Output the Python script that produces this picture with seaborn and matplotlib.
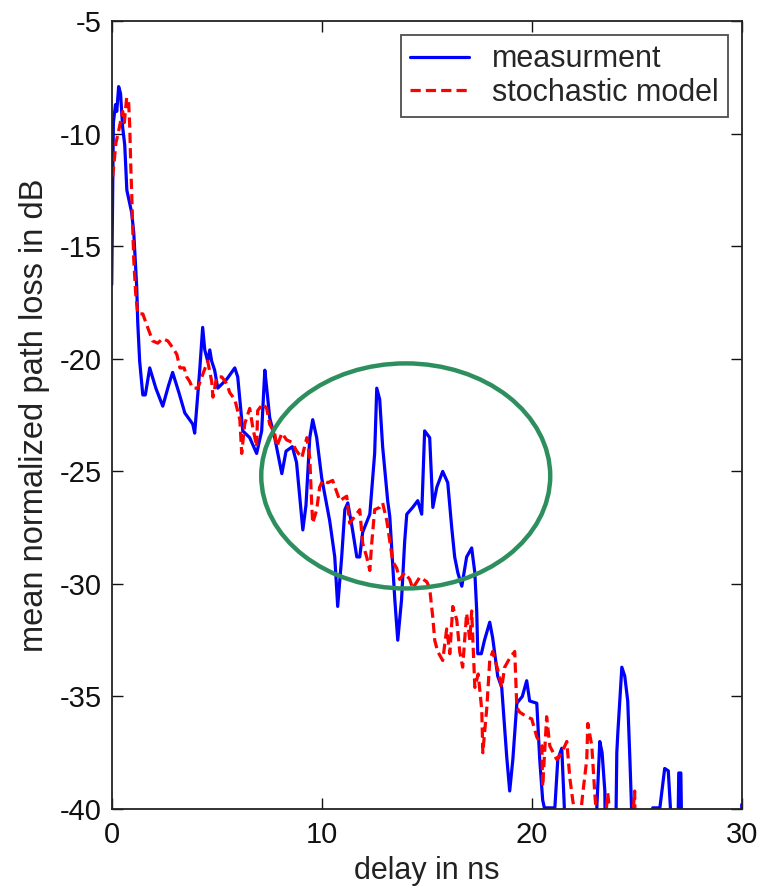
import numpy as np
import pandas as pd
import matplotlib
matplotlib.use("Agg")
import matplotlib.pyplot as plt
from matplotlib.patches import Ellipse
import seaborn as sns

# ---------------- data ----------------
meas_t = [0.0, 0.08, 0.18, 0.24, 0.33, 0.42, 0.52, 0.62, 0.67, 0.72, 0.86, 0.95, 1.05, 1.19, 1.24, 1.33,
          1.48, 1.6, 1.81, 2.1, 2.43, 2.7, 2.9, 3.2, 3.48, 3.86, 3.95, 4.19, 4.33, 4.43, 4.57, 4.67,
          4.76, 4.9, 5.05, 5.48, 5.86, 6.0, 6.24, 6.57, 6.9, 7.14, 7.29, 7.38, 7.52, 7.76, 8.1, 8.3,
          8.6, 8.8, 9.1, 9.25, 9.43, 9.57, 9.76, 10.0, 10.38, 10.62, 10.76, 10.95, 11.1, 11.24, 11.45,
          11.67, 11.81, 11.95, 12.29, 12.52, 12.62, 12.76, 12.9, 13.14, 13.24, 13.48, 13.62, 13.8,
          13.95, 14.05, 14.33, 14.57, 14.76, 14.9, 15.14, 15.29, 15.48, 15.76, 16.0, 16.19, 16.33,
          16.48, 16.67, 16.9, 17.14, 17.29, 17.38, 17.43, 17.6, 17.75, 18.0, 18.14, 18.38, 18.57,
          18.81, 18.95, 19.1, 19.29, 19.55, 19.76, 19.9, 20.24, 20.38, 20.52, 20.6, 21.1, 21.24,
          21.43, 21.55, 21.6, 23.05, 23.1, 23.24, 23.35, 23.48, 23.55, 23.95, 24.05, 24.1, 24.29,
          24.43, 24.57, 24.67, 24.75, 24.8, 25.7, 25.76, 26.1, 26.2, 26.33, 26.5, 26.6, 26.65, 26.9,
          27.0, 27.1, 27.2, 29.95, 30.0]
meas_db = [-16.7, -9.5, -8.7, -9.0, -7.9, -8.2, -9.7, -10.5, -11.5, -12.5, -13.1, -13.5, -14.4, -16.8, -18.4, -20.1,
           -21.6, -21.6, -20.4, -21.3, -22.1, -21.2, -20.6, -21.5, -22.4, -22.9, -23.3, -20.5, -18.6, -19.6, -20.1, -19.6,
           -20.1, -20.5, -21.3, -20.9, -20.4, -20.8, -23.2, -23.5, -24.2, -23.2, -20.5, -21.3, -22.6, -23.5, -25.1, -24.1,
           -23.9, -24.6, -27.6, -26.5, -23.5, -22.7, -23.5, -25.3, -27.2, -28.8, -31.0, -28.8, -26.7, -26.4, -27.5,
           -28.8, -28.8, -27.7, -26.9, -24.2, -21.3, -21.8, -23.9, -26.3, -27.0, -30.7, -32.5, -30.7,
           -28.1, -26.9, -26.6, -26.3, -26.9, -23.2, -23.5, -26.6, -25.7, -25.0, -25.5, -27.5, -28.8,
           -29.5, -30.1, -28.8, -28.4, -29.5, -31.2, -33.1, -33.1, -32.5, -31.7, -32.4, -34.1, -34.6,
           -37.7, -39.2, -37.8, -35.3, -35.0, -34.3, -35.2, -35.3, -37.8, -39.6, -39.95, -39.95, -37.8,
           -37.3, -39.9, -45.0, -45.0, -39.9, -37.0, -37.5, -39.2, -45.0, -45.0, -37.5, -36.6, -33.7,
           -34.1, -35.2, -37.7, -39.9, -45.0, -45.0, -39.95, -39.95, -39.2, -38.2, -38.3, -39.9, -45.0, -45.0,
           -38.4, -38.4, -45.0, -45.0, -39.8]

model_t = [0.05, 0.12, 0.2, 0.3, 0.52, 0.6, 0.71, 0.8, 0.86, 0.9, 0.95, 1.0, 1.05, 1.14, 1.24, 1.48, 1.71,
           1.95, 2.19, 2.43, 2.67, 2.9, 3.1, 3.25, 3.45, 3.57, 3.71, 3.85, 4.1, 4.33, 4.57, 4.76, 4.82,
           5.0, 5.24, 5.48, 5.62, 5.86, 6.1, 6.19, 6.33, 6.57, 6.71, 6.9, 6.95, 7.19, 7.38, 7.52, 7.76,
           7.86, 8.1, 8.33, 8.57, 8.81, 9.05, 9.29, 9.43, 9.52, 9.57, 9.76, 9.9, 10.05, 10.29, 10.52,
           10.86, 11.19, 11.33, 11.57, 11.81, 11.95, 12.14, 12.29, 12.38, 12.52, 12.76, 12.9, 13.1,
           13.24, 13.38, 13.57, 13.71, 13.95, 14.19, 14.33, 14.67, 15.0, 15.14, 15.29, 15.38, 15.52,
           15.76, 15.95, 16.1, 16.24, 16.43, 16.57, 16.71, 16.9, 17.05, 17.14, 17.29, 17.45, 17.62,
           17.67, 17.86, 18.0, 18.14, 18.38, 18.57, 18.71, 18.95, 19.19, 19.29, 19.43, 19.76, 20.0,
           20.24, 20.48, 20.52, 20.71, 20.86, 21.19, 21.43, 21.67, 21.81, 21.95, 22.1, 22.3, 22.43,
           22.62, 22.67, 22.86, 23.0, 23.1, 23.5, 23.62, 23.75, 24.8, 24.9, 25.0, 30.0]
model_db = [-11.9, -11.2, -10.4, -10.0, -9.0, -9.5, -8.4, -8.5, -9.7, -11.2, -12.6, -14.2, -15.6, -17.1, -18.0, -18.0, -18.6,
            -19.2, -19.3, -19.1, -19.2, -19.5, -19.8, -20.4, -20.4, -20.8, -21.0, -21.3, -21.3, -20.7, -20.1, -21.0, -21.7,
            -20.8, -20.8, -21.1, -21.5, -21.8, -22.7, -24.2, -22.9, -22.2, -23.0, -23.9, -22.3, -22.0, -22.2, -22.9, -23.3,
            -23.9, -23.3, -23.6, -23.7, -24.1, -24.4, -23.5, -24.4, -26.4, -27.3, -26.7, -25.7, -25.4, -25.5, -25.4,
            -26.3, -26.1, -27.3, -27.0, -26.7, -28.2, -28.8, -29.4, -28.2, -26.7, -26.6, -26.4, -27.2,
            -28.1, -29.0, -29.3, -29.8, -29.5, -29.8, -30.2, -29.7, -29.9, -30.2, -31.5, -32.5, -33.0,
            -33.4, -32.0, -33.1, -31.0, -31.6, -33.0, -33.7, -31.3, -32.5, -31.2, -34.6, -34.0, -35.6,
            -37.5, -35.5, -33.4, -33.0, -33.8, -34.6, -33.7, -33.3, -33.0, -35.5, -35.7, -35.9, -36.0,
            -36.8, -37.2, -39.0, -35.9, -37.2, -37.8, -37.5, -37.0, -38.6, -39.6, -40.5, -40.5, -39.3,
            -37.8, -36.2, -37.2, -39.3, -40.5, -40.5, -39.3, -40.5, -40.5, -39.2, -45.0, -45.0]

series_labels = ["measurment", "stochastic model"]
x_ticks = [0, 10, 20, 30]
y_ticks = [-5, -10, -15, -20, -25, -30, -35, -40]

# ---------------- plotting ----------------
sns.set_style("ticks")
plt.rcParams["font.family"] = ["Liberation Sans", "DejaVu Sans"]
plt.rcParams["axes.unicode_minus"] = False

fig = plt.figure(figsize=(7.6, 8.89), dpi=100)
ax = fig.add_axes([0.147, 0.09, 0.829, 0.886])

df_meas = pd.DataFrame({"t": meas_t, "db": meas_db})
df_model = pd.DataFrame({"t": model_t, "db": model_db})

sns.lineplot(data=df_meas, x="t", y="db", ax=ax, color="#0000FF", lw=2.3,
             sort=False, estimator=None, label=series_labels[0])
sns.lineplot(data=df_model, x="t", y="db", ax=ax, color="#FF0000", lw=2.3,
             sort=False, estimator=None, label=series_labels[1], linestyle=(0, (3.2, 1.6)))

ell = Ellipse((14.0, -25.2), width=13.76, height=10.0, fill=False,
              edgecolor="#2E8F5E", lw=3.2, zorder=5)
ax.add_patch(ell)

ax.set_xlim(0, 30)
ax.set_ylim(-40, -5)
ax.set_xticks(x_ticks)
ax.set_yticks(y_ticks)
ax.tick_params(direction="in", top=True, right=True, length=8, width=1.0,
               labelsize=21, colors="#111111")
ax.tick_params(axis="x", pad=9)
ax.tick_params(axis="y", pad=7)
for sp in ax.spines.values():
    sp.set_visible(True)
    sp.set_linewidth(1.3)
    sp.set_color("#222222")

ax.set_xlabel("delay in ns", fontsize=22, color="#222222", labelpad=5)
ax.set_ylabel("mean normalized path loss in dB", fontsize=23.5, color="#222222", labelpad=7)

leg = ax.legend(loc="upper right", fontsize=22, frameon=True, fancybox=False,
                edgecolor="#222222", handlelength=1.95, handletextpad=0.75,
                borderpad=0.3, labelspacing=0.12, borderaxespad=0.45)
leg.get_frame().set_linewidth(1.3)

fig.savefig("out.png", dpi=100)
